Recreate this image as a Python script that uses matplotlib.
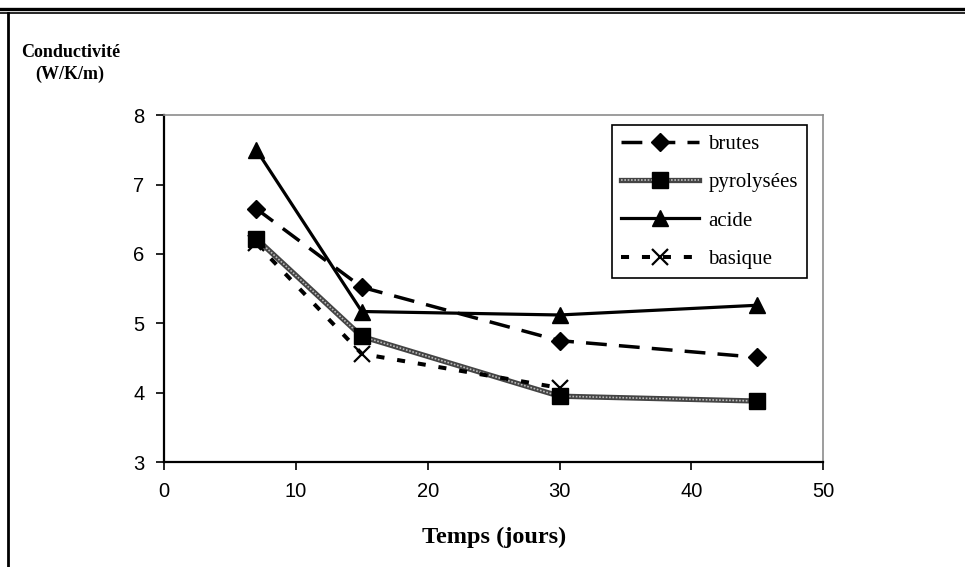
import matplotlib.pyplot as plt
from matplotlib.lines import Line2D
from matplotlib.legend_handler import HandlerTuple

# Conductivité en fonction du temps
jours = [7, 15, 30, 45]
jours_basique = [7, 15, 30]

brutes = [6.65, 5.52, 4.75, 4.51]
pyrolysees = [6.22, 4.81, 3.95, 3.88]
acide = [7.5, 5.17, 5.12, 5.26]
basique = [6.15, 4.56, 4.07]

x_ticks = [0, 10, 20, 30, 40, 50]
y_ticks = [3, 4, 5, 6, 7, 8]

serif = ['Liberation Serif', 'DejaVu Serif']
sans = ['Liberation Sans', 'DejaVu Sans']

fig = plt.figure(figsize=(9.65, 5.67), dpi=100)
ax = fig.add_axes([0.170, 0.185, 0.683, 0.612])

# brutes : tirets longs + losanges
l_brut, = ax.plot(jours, brutes, color='black', lw=2.5, linestyle=(0, (6, 3.5)),
                  dash_capstyle='butt', marker='D', markersize=9, zorder=3)
# pyrolysées : trait gris "texturé"
l_pyr1, = ax.plot(jours, pyrolysees, color='#444444', lw=3.8, zorder=2)
l_pyr2, = ax.plot(jours, pyrolysees, color='#bbbbbb', lw=1.2,
                  linestyle=(0, (1, 1)), zorder=2.1)
l_pyr3, = ax.plot(jours, pyrolysees, color='black', lw=0, marker='s',
                  markersize=11, zorder=3)
# acide : trait plein + triangles
l_ac, = ax.plot(jours, acide, color='black', lw=2.3, marker='^',
                markersize=12, zorder=3)
# basique : tirets courts + croix
l_bas, = ax.plot(jours_basique, basique, color='black', lw=2.9,
                 linestyle=(0, (2, 3.2)), dash_capstyle='butt', marker='x',
                 markersize=11, markeredgewidth=1.6, zorder=3)

ax.set_xlim(0, 50)
ax.set_ylim(3, 8)
ax.set_xticks(x_ticks)
ax.set_yticks(y_ticks)
ax.tick_params(direction='out', length=6, width=1.2, labelsize=14.5, pad=8)
for lab in ax.get_xticklabels() + ax.get_yticklabels():
    lab.set_family(sans)

for s in ['left', 'bottom']:
    ax.spines[s].set_linewidth(1.6)
    ax.spines[s].set_color('black')
for s in ['top', 'right']:
    ax.spines[s].set_linewidth(1.2)
    ax.spines[s].set_color('#8c8c8c')

leg = ax.legend([l_brut, (l_pyr1, l_pyr2, l_pyr3), l_ac, l_bas],
                ['brutes', 'pyrolysées', 'acide', 'basique'],
                handler_map={tuple: HandlerTuple(ndivide=1, pad=0)},
                loc='upper right', bbox_to_anchor=(0.976, 0.971),
                prop={'family': serif, 'size': 15}, handlelength=3.75,
                handletextpad=0.45, labelspacing=0.9, borderpad=0.45,
                borderaxespad=0, fancybox=False, framealpha=1,
                edgecolor='black')
leg.get_frame().set_linewidth(1.2)

fig.text(0.022, 0.908, 'Conductivité', fontsize=13, fontweight='bold',
         family=serif, ha='left', va='center')
fig.text(0.037, 0.869, '(W/K/m)', fontsize=13, fontweight='bold',
         family=serif, ha='left', va='center')
fig.text(0.512, 0.053, 'Temps (jours)', fontsize=17.5, fontweight='bold',
         family=serif, ha='center', va='center')

# cadre du document
fig.add_artist(Line2D([0, 1], [1 - 9 / 567, 1 - 9 / 567], color='black', lw=2.4))
fig.add_artist(Line2D([0, 1], [1 - 12.5 / 567, 1 - 12.5 / 567], color='black', lw=1.2))
fig.add_artist(Line2D([7.5 / 965, 7.5 / 965], [0, 1 - 12.5 / 567], color='black', lw=2))

fig.savefig('out.png', dpi=100)
